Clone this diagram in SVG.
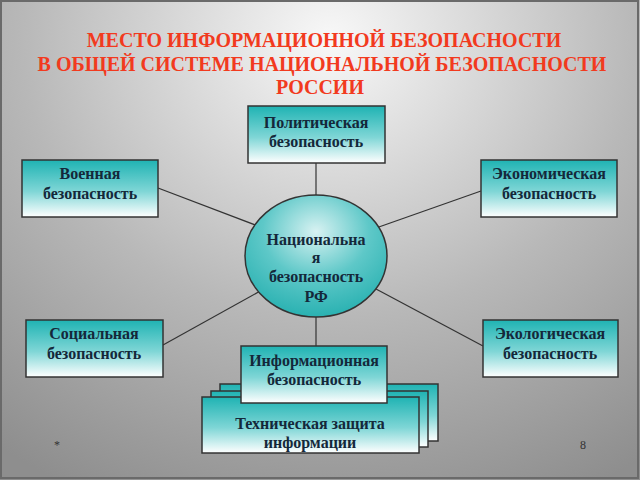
<svg xmlns="http://www.w3.org/2000/svg" width="640" height="480" viewBox="0 0 640 480">
<defs>
<radialGradient id="bg" cx="330" cy="40" r="560" gradientUnits="userSpaceOnUse" gradientTransform="translate(330 40) scale(1 0.9) translate(-330 -40)">
<stop offset="0" stop-color="#f8f8f8"/>
<stop offset="0.55" stop-color="#b8b8b8"/>
<stop offset="1" stop-color="#8e8e8e"/>
</radialGradient>
<linearGradient id="box" x1="0" y1="0" x2="0" y2="1">
<stop offset="0" stop-color="#1fb3b3"/>
<stop offset="0.55" stop-color="#7fd6d6"/>
<stop offset="1" stop-color="#ffffff"/>
</linearGradient>
<radialGradient id="ell" cx="0.5" cy="0.3" r="0.75">
<stop offset="0" stop-color="#d8f2f2"/>
<stop offset="0.5" stop-color="#5ec8c8"/>
<stop offset="1" stop-color="#22aeae"/>
</radialGradient>
<style>
.b{fill:url(#box);stroke:#333;stroke-width:1.5}
.t{font-family:"Liberation Serif","DejaVu Serif",serif;font-weight:bold;font-size:16px;fill:#14283a;text-anchor:middle}
.h{font-family:"Liberation Serif","DejaVu Serif",serif;font-weight:bold;font-size:20px;fill:#f23a1e;text-anchor:middle}
.c{stroke:#333;stroke-width:1.2;fill:none}
</style>
</defs>
<rect x="0" y="0" width="640" height="480" fill="url(#bg)"/>
<rect x="1" y="1" width="637" height="477" fill="none" stroke="#6a6a6a" stroke-width="2"/>
<g id="title">
<text class="h" x="324" y="47">МЕСТО ИНФОРМАЦИОННОЙ БЕЗОПАСНОСТИ</text>
<text class="h" x="322" y="71">В ОБЩЕЙ СИСТЕМЕ НАЦИОНАЛЬНОЙ БЕЗОПАСНОСТИ</text>
<text class="h" x="320" y="94">РОССИИ</text>
</g>
<g id="connectors">
<line class="c" x1="316" y1="163" x2="316" y2="195"/>
<line class="c" x1="158" y1="188" x2="258" y2="226"/>
<line class="c" x1="481" y1="191" x2="376" y2="228"/>
<line class="c" x1="163" y1="345" x2="262" y2="290"/>
<line class="c" x1="483" y1="346" x2="376" y2="289"/>
<line class="c" x1="316" y1="317" x2="316" y2="346"/>
</g>
<g id="political">
<rect class="b" x="248" y="106" width="137" height="57"/>
<text class="t" x="316" y="128">Политическая</text>
<text class="t" x="316" y="147">безопасность</text>
</g>
<g id="military">
<rect class="b" x="22" y="160" width="136" height="57"/>
<text class="t" x="90" y="179">Военная</text>
<text class="t" x="90" y="199">безопасность</text>
</g>
<g id="economic">
<rect class="b" x="481" y="160" width="136" height="57"/>
<text class="t" x="549" y="179">Экономическая</text>
<text class="t" x="549" y="199">безопасность</text>
</g>
<g id="national">
<ellipse cx="316" cy="256" rx="71" ry="61" fill="url(#ell)" stroke="#333" stroke-width="1.5"/>
<text class="t" x="316" y="245">Национальна</text>
<text class="t" x="316" y="263">я</text>
<text class="t" x="316" y="282">безопасность</text>
<text class="t" x="316" y="302">РФ</text>
</g>
<g id="social">
<rect class="b" x="26" y="320" width="137" height="57"/>
<text class="t" x="94" y="339">Социальная</text>
<text class="t" x="94" y="359">безопасность</text>
</g>
<g id="ecological">
<rect class="b" x="483" y="320" width="135" height="57"/>
<text class="t" x="550" y="339">Экологическая</text>
<text class="t" x="550" y="359">безопасность</text>
</g>
<g id="technical">
<rect class="b" x="220" y="384" width="218" height="57" stroke="#eee" stroke-width="1"/>
<rect class="b" x="211" y="391" width="217" height="56" stroke="#eee" stroke-width="1"/>
<rect class="b" x="202" y="397" width="217" height="56" stroke="#eee" stroke-width="1"/>
<text class="t" x="310" y="429">Техническая защита</text>
<text class="t" x="310" y="448">информации</text>
</g>
<g id="information">
<rect class="b" x="241" y="346" width="146" height="57"/>
<text class="t" x="314" y="366">Информационная</text>
<text class="t" x="314" y="385">безопасность</text>
</g>
<g id="footer">
<text x="57" y="449" font-family="Liberation Serif, serif" font-size="12" fill="#333" text-anchor="middle">*</text>
<text x="583" y="449" font-family="Liberation Serif, serif" font-size="12" fill="#333" text-anchor="middle">8</text>
</g>
</svg>
